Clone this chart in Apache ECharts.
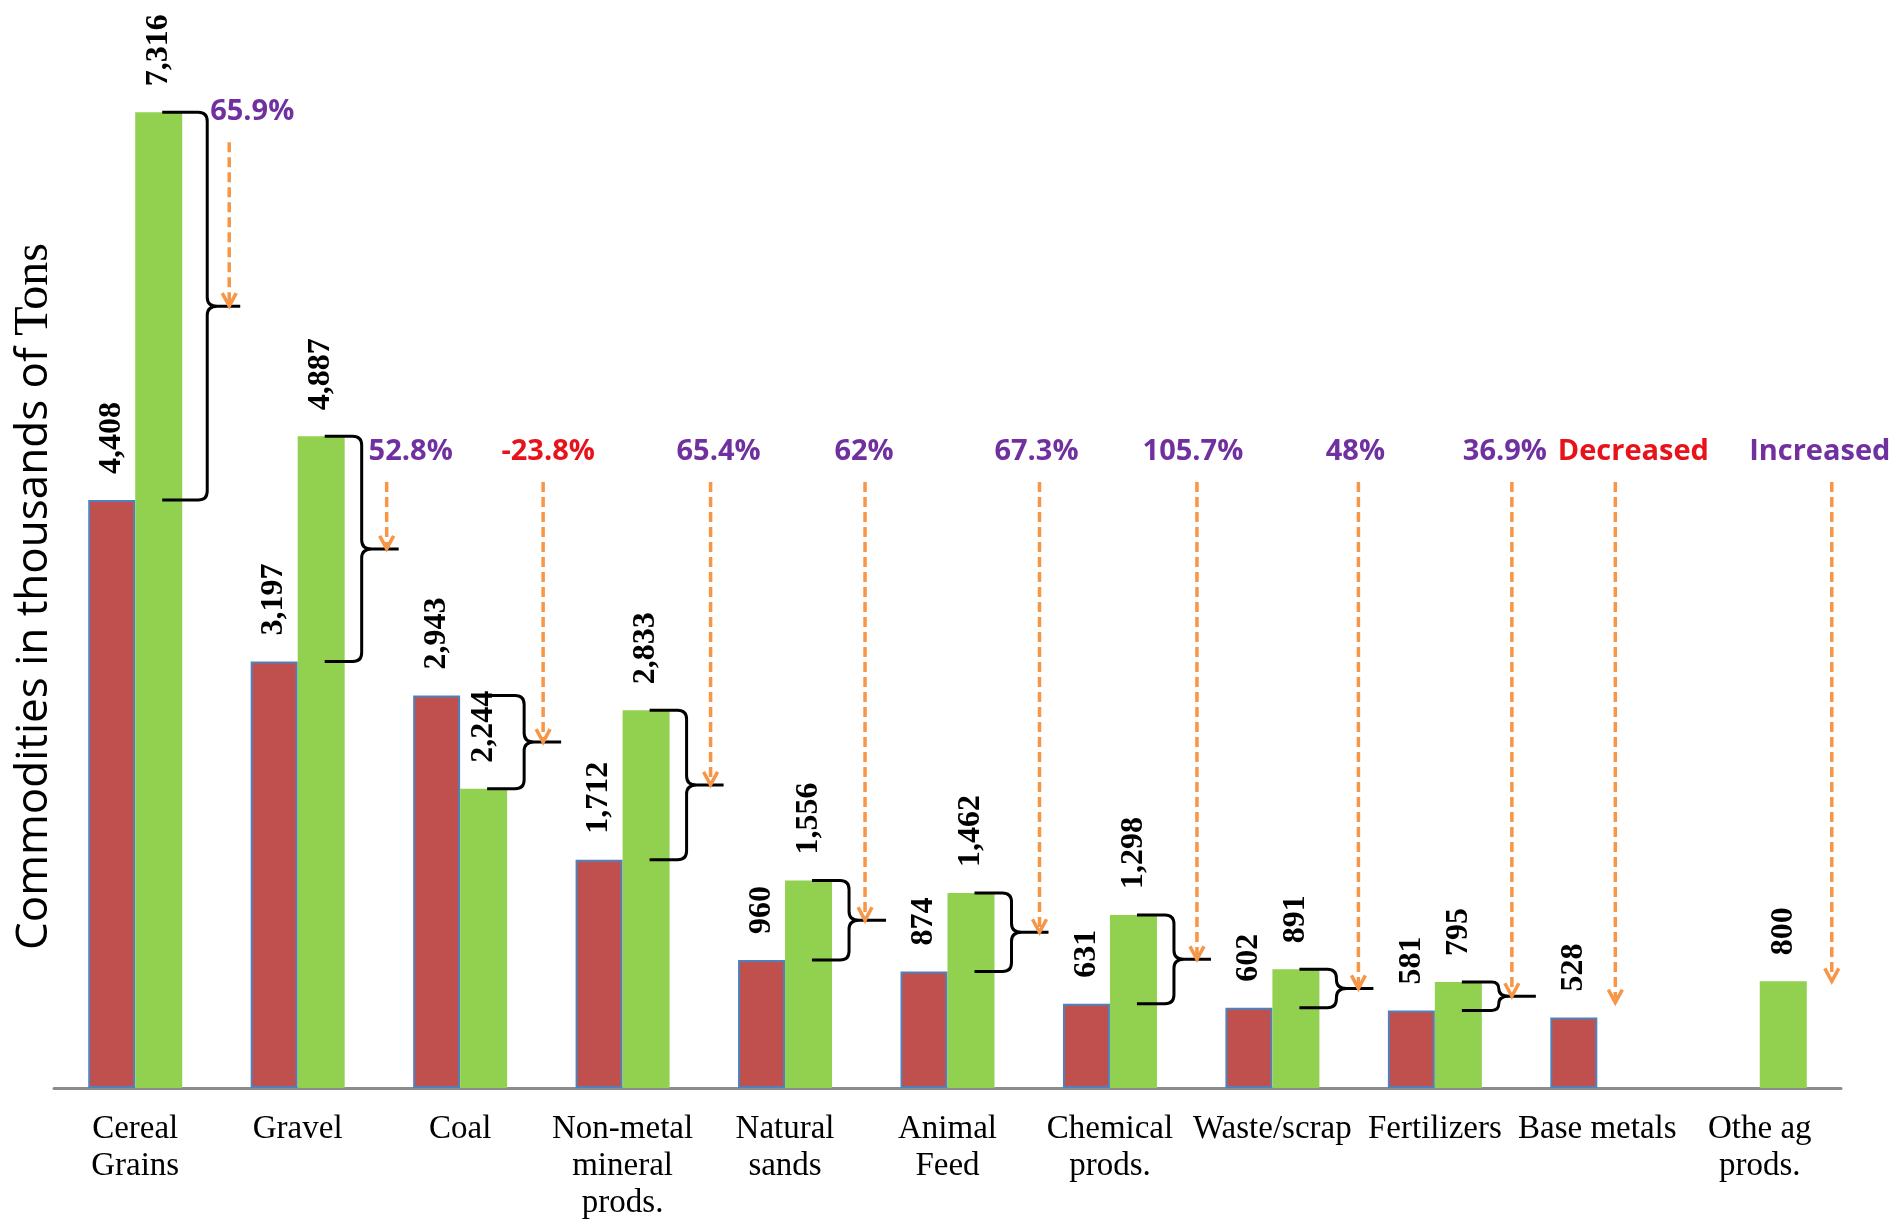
<!DOCTYPE html>
<html>
<head>
<meta charset="utf-8">
<script src="https://cdn.jsdelivr.net/npm/echarts@6/dist/echarts.min.js"></script>
<style>
  html, body { margin: 0; padding: 0; background: #fff; }
  #main { width: 1889px; height: 1219px; }
</style>
</head>
<body>
<div id="main"></div>
<script>
// commodities
var categories = ['Cereal\nGrains', 'Gravel', 'Coal', 'Non-metal\nmineral\nprods.', 'Natural\nsands',
  'Animal\nFeed', 'Chemical\nprods.', 'Waste/scrap', 'Fertilizers', 'Base metals', 'Othe ag\nprods.'];
// thousands of tons, red bars then green bars
var before = [4408, 3197, 2943, 1712, 960, 874, 631, 602, 581, 528, null];
var after = [7316, 4887, 2244, 2833, 1556, 1462, 1298, 891, 795, null, 800];
// change notes
var changes = ['65.9%', '52.8%', '-23.8%', '65.4%', '62%', '67.3%', '105.7%', '48%', '36.9%', 'Decreased', 'Increased'];
var changeUp = [true, true, false, true, true, true, true, true, true, false, true];

// layout of the notes (pixels, right edge of green bar as origin)
var BAR_W = 47;
var ARROW_DX = [47, 42, 36, 41, 33, 45, 40, 39, 30, -29, 25];
var LABEL_DX = [70, 66, 41, 49, 32, 42, 36, 36, 23, -11, 13];
var NOTE_Y = 452;
var ARROW_Y = 482;

function bracePath(x0, xv, xt, yTop, yBot) {
  var ym = (yTop + yBot) / 2;
  var r = Math.min(9, (yBot - yTop) / 4);
  var c = 10;
  return 'M' + x0 + ',' + yTop +
    ' L' + (xv - r) + ',' + yTop +
    ' Q' + xv + ',' + yTop + ' ' + xv + ',' + (yTop + r) +
    ' L' + xv + ',' + (ym - r) +
    ' Q' + xv + ',' + ym + ' ' + (xv + c) + ',' + ym +
    ' L' + xt + ',' + ym +
    ' M' + (xv + c) + ',' + ym +
    ' Q' + xv + ',' + ym + ' ' + xv + ',' + (ym + r) +
    ' L' + xv + ',' + (yBot - r) +
    ' Q' + xv + ',' + yBot + ' ' + (xv - r) + ',' + yBot +
    ' L' + x0 + ',' + yBot;
}

function renderNotes(params, api) {
  var i = params.dataIndex;
  var cx = api.coord([i, 0])[0];
  var gx = cx + BAR_W;
  var b = before[i], a = after[i];
  var children = [];
  var ym;
  if (b != null && a != null) {
    var yb = api.coord([i, b])[1];
    var ya = api.coord([i, a])[1];
    var yTop = Math.min(ya, yb), yBot = Math.max(ya, yb);
    ym = (yTop + yBot) / 2;
    var wide = i === 0 ? 8 : 0;
    children.push({
      type: 'path',
      shape: { pathData: bracePath(gx - 20, gx + 17 + wide, gx + 54 + wide / 2, yTop, yBot) },
      style: { stroke: '#000', lineWidth: 3, fill: 'none' }
    });
  } else if (a == null) {
    ym = api.coord([i, b])[1] - 15;
  } else {
    ym = api.coord([i, a])[1];
  }

  var ax = gx + ARROW_DX[i];
  var labelY = NOTE_Y, startY = ARROW_Y;
  if (i === 0) {
    labelY = api.coord([i, a])[1];
    startY = labelY + 30;
  }
  children.push({
    type: 'line',
    shape: { x1: ax, y1: startY, x2: ax, y2: ym - 4 },
    style: { stroke: '#F79646', lineWidth: 3.5, lineDash: [10, 5] }
  });
  children.push({
    type: 'polyline',
    shape: { points: [[ax - 7, ym - 13], [ax, ym], [ax + 7, ym - 13]] },
    style: { stroke: '#F79646', lineWidth: 3.5, fill: 'none' }
  });
  children.push({
    type: 'text',
    style: {
      text: changes[i],
      x: gx + LABEL_DX[i],
      y: labelY,
      fill: changeUp[i] ? '#7030A0' : '#E8121A',
      fontFamily: 'Open Sans',
      fontWeight: 'bold',
      fontSize: 29,
      align: 'center',
      verticalAlign: 'middle'
    }
  });
  return { type: 'group', children: children };
}

var chart = echarts.init(document.getElementById('main'));

var valueLabel = {
  show: true,
  position: 'top',
  rotate: 90,
  align: 'left',
  verticalAlign: 'middle',
  distance: 26,
  color: '#000',
  fontFamily: 'Liberation Serif',
  fontWeight: 'bold',
  fontSize: 32,
  formatter: function (p) {
    return p.value.toLocaleString('en-US');
  }
};

var option = {
  animation: false,
  backgroundColor: '#fff',
  grid: { left: 54, right: 48, top: 21, bottom: 131, outerBoundsMode: 'none', containLabel: false },
  xAxis: {
    type: 'category',
    data: categories,
    axisLine: { lineStyle: { color: '#8C8C8C', width: 3 } },
    axisTick: { show: false },
    axisLabel: {
      interval: 0,
      margin: 23,
      color: '#000',
      fontFamily: 'Liberation Serif',
      fontSize: 33,
      lineHeight: 37
    }
  },
  yAxis: {
    type: 'value',
    min: 0,
    max: 8000,
    axisLine: { show: false },
    axisTick: { show: false },
    axisLabel: { show: false },
    splitLine: { show: false },
    name: '{a|Commodities in thousands of }{b|Tons}',
    nameLocation: 'middle',
    nameGap: -4,
    nameTextStyle: {
      color: '#000',
      padding: [0, 84, 0, 0],
      rich: {
        a: { fontFamily: 'Open Sans', fontSize: 44, color: '#000' },
        b: { fontFamily: 'Liberation Serif', fontSize: 48, color: '#000' }
      }
    }
  },
  series: [
    {
      name: 'Before',
      type: 'bar',
      data: before,
      barWidth: BAR_W,
      barGap: '0%',
      itemStyle: { color: '#C0504D', borderColor: '#4F81BD', borderWidth: 2 },
      label: valueLabel
    },
    {
      name: 'After',
      type: 'bar',
      data: after,
      barWidth: BAR_W,
      barGap: '0%',
      itemStyle: { color: '#92D050' },
      label: valueLabel
    },
    {
      name: 'Change',
      type: 'custom',
      clip: false,
      z: 5,
      renderItem: renderNotes,
      encode: { x: 0, y: 1 },
      data: categories.map(function (c, i) {
        return [i, Math.max(before[i] || 0, after[i] || 0)];
      })
    }
  ]
};

chart.setOption(option);
</script>
</body>
</html>
